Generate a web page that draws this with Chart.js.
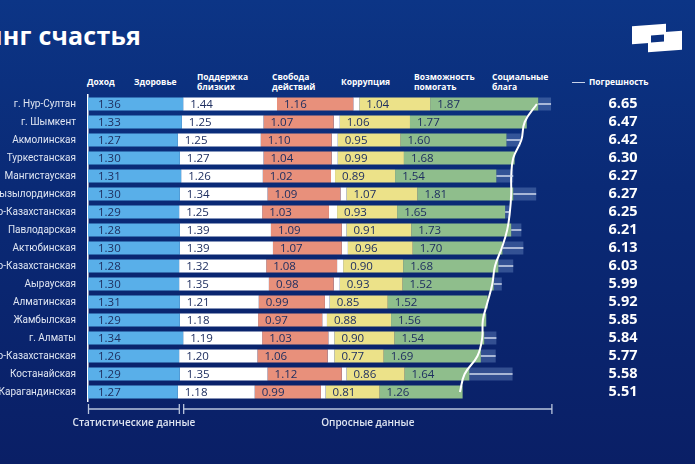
<!DOCTYPE html>
<html lang="ru">
<head>
<meta charset="utf-8">
<script src="https://cdn.jsdelivr.net/npm/chart.js@4.4.1/dist/chart.umd.min.js"></script>
<style>
    html, body { margin: 0; padding: 0; }
    body {
        width: 695px; height: 464px; overflow: hidden; position: relative;
        background: linear-gradient(180deg, #0c3586 0%, #0a2a76 40%, #0a1f66 100%);
        font-family: 'Open Sans', 'Noto Sans', sans-serif;
    }
    #wrap { position: absolute; left: 0; top: 0; width: 695px; height: 464px; }
    .title {
        position: absolute; right: 554px; top: 18px; white-space: nowrap;
        color: #fff; font-size: 25px; font-weight: 700; letter-spacing: 0.2px;
    }
    .hdr {
        position: absolute; color: #fff; font-size: 8.5px; font-weight: 700;
        line-height: 10px; white-space: nowrap;
    }
    .logo { position: absolute; background: #fff; }
</style>
</head>
<body>
<div class="title">Рейтинг счастья</div>
<div class="logo" style="left:632px; top:25px; width:34px; height:18px; transform: skewY(-4deg);"></div>
<div class="logo" style="left:648px; top:32px; width:34px; height:19px; transform: skewY(-4deg);"></div>
<div class="logo" style="left:651px; top:35px; width:13px; height:7px; background:#0b3180; transform: skewY(-4deg);"></div>

<div class="hdr" style="left:87px; top:77px;">Доход</div>
<div class="hdr" style="left:134px; top:77px;">Здоровье</div>
<div class="hdr" style="left:197px; top:72px;">Поддержка<br>близких</div>
<div class="hdr" style="left:272px; top:72px;">Свобода<br>действий</div>
<div class="hdr" style="left:341px; top:77px;">Коррупция</div>
<div class="hdr" style="left:414px; top:72px;">Возможность<br>помогать</div>
<div class="hdr" style="left:492px; top:72px;">Социальные<br>блага</div>
<div class="hdr" style="left:572px; top:77px;"><span style="display:inline-block;width:13px;height:1.5px;background:#c9d3e8;vertical-align:middle;margin-right:4px;"></span>Погрешность</div>

<div id="wrap"><canvas id="chart"></canvas></div>

<script>
const regions = ['г. Нур-Султан', 'г. Шымкент', 'Акмолинская', 'Туркестанская', 'Мангистауская',
    'Кызылординская', 'Восточно-Казахстанская', 'Павлодарская', 'Актюбинская', 'Северо-Казахстанская',
    'Аырауская', 'Алматинская', 'Жамбылская', 'г. Алматы', 'Западно-Казахстанская',
    'Костанайская', 'Карагандинская'];
const totals = [6.65, 6.47, 6.42, 6.30, 6.27, 6.27, 6.25, 6.21, 6.13, 6.03, 5.99, 5.92, 5.85, 5.84, 5.77, 5.58, 5.51];

// numbers printed inside the segments
const incomeLbl = [1.36, 1.33, 1.27, 1.30, 1.31, 1.30, 1.29, 1.28, 1.30, 1.28, 1.30, 1.31, 1.29, 1.34, 1.26, 1.29, 1.27];
const healthLbl = [1.44, 1.25, 1.25, 1.27, 1.26, 1.34, 1.25, 1.39, 1.39, 1.32, 1.35, 1.21, 1.18, 1.19, 1.20, 1.35, 1.18];
const supportLbl = [1.16, 1.07, 1.10, 1.04, 1.02, 1.09, 1.03, 1.09, 1.07, 1.08, 0.98, 0.99, 0.97, 1.03, 1.06, 1.12, 0.99];
const helpLbl = [1.04, 1.06, 0.95, 0.99, 0.89, 1.07, 0.93, 0.91, 0.96, 0.90, 0.93, 0.85, 0.88, 0.90, 0.77, 0.86, 0.81];
const socialLbl = [1.87, 1.77, 1.60, 1.68, 1.54, 1.81, 1.65, 1.73, 1.70, 1.68, 1.52, 1.52, 1.56, 1.54, 1.69, 1.64, 1.26];

// segment lengths as drawn in the picture
const income = [1.41, 1.39, 1.33, 1.36, 1.38, 1.36, 1.35, 1.36, 1.36, 1.35, 1.35, 1.36, 1.36, 1.41, 1.35, 1.36, 1.33];
const health = [1.39, 1.21, 1.23, 1.24, 1.21, 1.30, 1.23, 1.35, 1.38, 1.29, 1.33, 1.17, 1.16, 1.17, 1.16, 1.30, 1.14];
const support = [1.13, 1.04, 1.05, 1.01, 1.01, 1.08, 0.99, 1.05, 1.02, 1.05, 0.96, 0.98, 0.95, 0.98, 1.04, 1.10, 0.98];
const freedom = [0.09, 0.09, 0.09, 0.09, 0.06, 0.09, 0.12, 0.07, 0.09, 0.09, 0.09, 0.07, 0.07, 0.09, 0.10, 0.07, 0.07];
const help = [1.05, 1.04, 0.93, 0.98, 0.89, 1.05, 0.89, 0.96, 0.96, 0.89, 0.93, 0.86, 0.95, 0.89, 0.73, 0.86, 0.80];
const social = [1.60, 1.73, 1.57, 1.64, 1.50, 1.42, 1.60, 1.48, 1.33, 1.41, 1.35, 1.48, 1.41, 1.33, 1.44, 0.96, 1.23];
const errorBand = [0.19, 0, 0.21, 0, 0.25, 0.34, 0.06, 0.15, 0.31, 0.22, 0.12, 0, 0, 0.18, 0.22, 0.64, 0];

const groups = [
    { text: 'Статистические данные', from: 0, to: 1.36 },
    { text: 'Опросные данные', from: 1.41, to: 6.88 }
];

const labelSets = { 0: incomeLbl, 1: healthLbl, 2: supportLbl, 4: helpLbl, 5: socialLbl };

const segmentLabels = {
    id: 'segmentLabels',
    afterDatasetsDraw(chart) {
        const ctx = chart.ctx;
        ctx.save();
        ctx.font = '500 11.5px "Open Sans", sans-serif';
        ctx.fillStyle = '#1f2f60';
        ctx.textBaseline = 'middle';
        ctx.textAlign = 'left';
        Object.keys(labelSets).forEach(i => {
            const meta = chart.getDatasetMeta(+i);
            meta.data.forEach((bar, j) => {
                const pad = +i === 0 ? 10 : 7;
                ctx.fillText(labelSets[i][j].toFixed(2), bar.base + pad, bar.y + 0.5);
            });
        });
        // whisker lines of the error band
        const em = chart.getDatasetMeta(6);
        ctx.strokeStyle = '#d2dbee';
        ctx.lineWidth = 1.5;
        em.data.forEach((bar, j) => {
            if (!errorBand[j]) return;
            ctx.beginPath();
            ctx.moveTo(bar.base, bar.y);
            ctx.lineTo(bar.x, bar.y);
            ctx.stroke();
        });
        ctx.restore();
    },
    afterDraw(chart) {
        const ctx = chart.ctx;
        const x = chart.scales.x;
        const y = 409;
        ctx.save();
        ctx.strokeStyle = '#b9c5dd';
        ctx.lineWidth = 1.3;
        ctx.fillStyle = '#dfe5f2';
        ctx.font = '600 10px "Open Sans", sans-serif';
        ctx.textAlign = 'center';
        ctx.textBaseline = 'middle';
        groups.forEach(g => {
            const a = x.getPixelForValue(g.from) + 0.5;
            const b = x.getPixelForValue(g.to) - 0.5;
            ctx.beginPath();
            ctx.moveTo(a, y); ctx.lineTo(b, y);
            ctx.moveTo(a, y - 5); ctx.lineTo(a, y + 5);
            ctx.moveTo(b, y - 5); ctx.lineTo(b, y + 5);
            ctx.stroke();
            ctx.fillText(g.text, (a + b) / 2, y + 14);
        });
        ctx.restore();
    }
};

function barSet(label, data, color) {
    return { label: label, data: data, backgroundColor: color, borderWidth: 0, order: 1,
        barPercentage: 0.72, categoryPercentage: 1 };
}

new Chart(document.getElementById('chart'), {
    data: {
        labels: regions,
        datasets: [
            barSet('Доход', income, '#59afe9'),
            barSet('Здоровье', health, '#ffffff'),
            barSet('Поддержка близких', support, '#e8907b'),
            barSet('Свобода действий', freedom, '#ffffff'),
            barSet('Возможность помогать', help, '#ece289'),
            barSet('Социальные блага', social, '#8fbe8c'),
            barSet('Погрешность', errorBand, 'rgba(110, 140, 195, 0.42)'),
            {
                type: 'line', label: 'Итог', data: totals, order: 0,
                borderColor: '#ffffff', borderWidth: 2, pointRadius: 0, tension: 0.4, fill: false
            }
        ].map(d => Object.assign({ type: 'bar' }, d))
    },
    options: {
        indexAxis: 'y',
        responsive: true,
        maintainAspectRatio: false,
        animation: false,
        layout: { padding: { top: 95, bottom: 63, left: 0, right: 0 } },
        plugins: { legend: { display: false }, tooltip: { enabled: false } },
        scales: {
            x: { stacked: true, min: 0, max: 7, display: false },
            y: {
                stacked: true,
                grid: { display: false },
                border: { display: true, color: '#ffffff', width: 1.5 },
                ticks: { color: '#dfe5f2', padding: 4, autoSkip: false, font: { family: 'Roboto', size: 10 } },
                afterFit(scale) { scale.width = 88; }
            },
            y2: {
                type: 'category',
                position: 'right',
                labels: totals.map(t => t.toFixed(2)),
                offset: true,
                grid: { display: false },
                border: { display: false },
                ticks: { color: '#ffffff', padding: 40, crossAlign: 'near', autoSkip: false,
                    font: { family: 'Open Sans', size: 14.5, weight: 'bold' } },
                afterFit(scale) { scale.width = 134.5; }
            }
        }
    },
    plugins: [segmentLabels]
});
</script>
</body>
</html>
